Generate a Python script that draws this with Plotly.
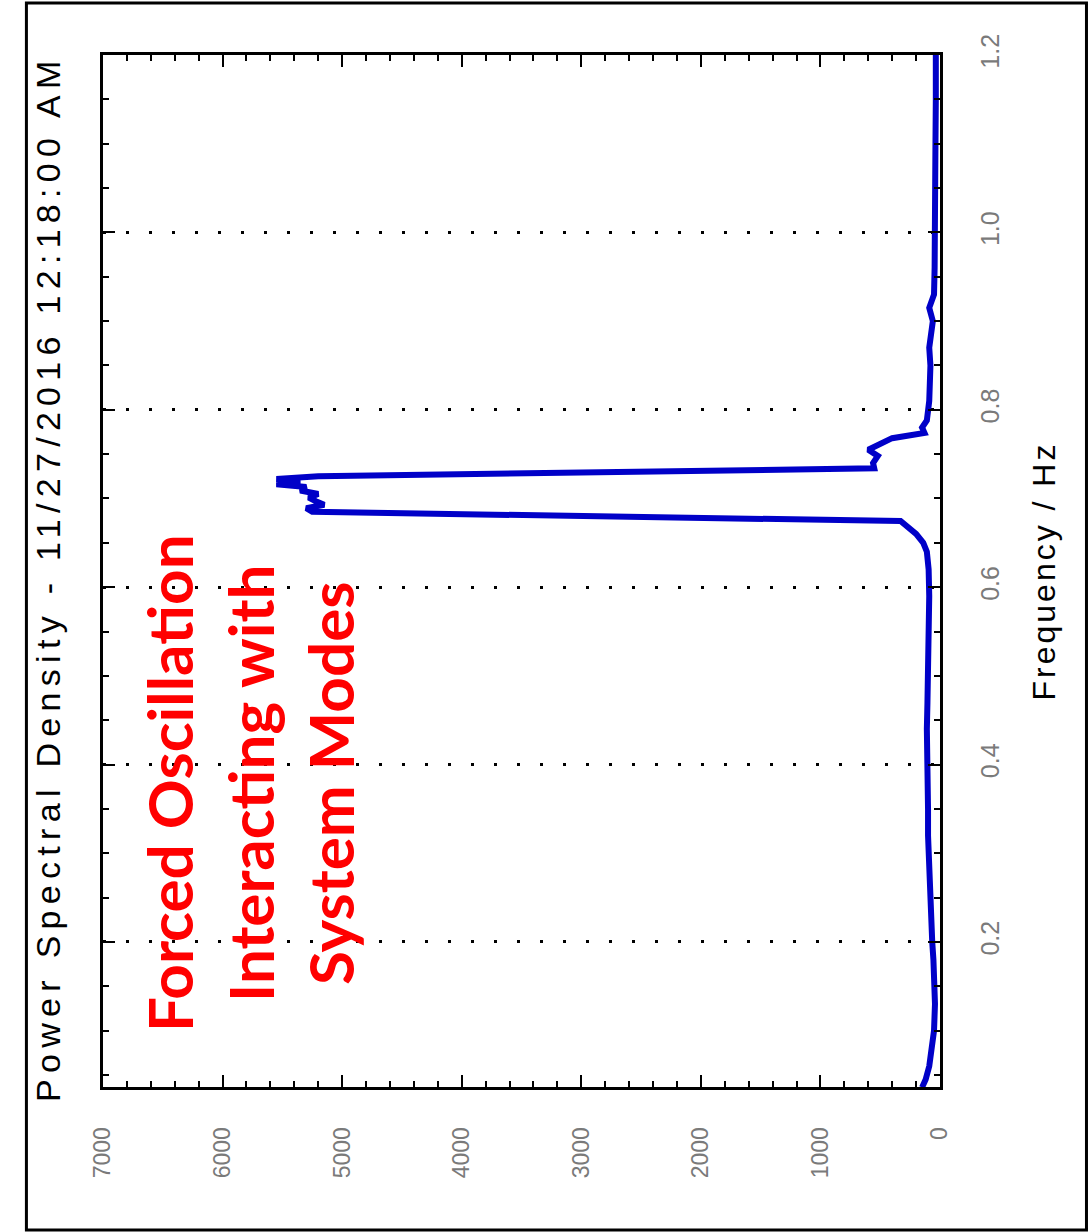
import plotly.graph_objects as go

# ---- data ----
freq_hz = [0.036, 0.045, 0.06, 0.08, 0.10, 0.13, 0.16, 0.18, 0.20, 0.23, 0.26, 0.29,
           0.32, 0.35, 0.38, 0.41, 0.44, 0.47, 0.50, 0.53, 0.56, 0.59, 0.62, 0.64,
           0.65, 0.66, 0.6746, 0.685, 0.689, 0.693, 0.697, 0.701, 0.705, 0.709,
           0.713, 0.716, 0.719, 0.722, 0.725, 0.734, 0.740, 0.748, 0.755, 0.762,
           0.768, 0.774, 0.780, 0.788, 0.796, 0.81, 0.83, 0.85, 0.87, 0.88, 0.90,
           0.915, 0.93, 0.96, 1.0, 1.05, 1.1, 1.15, 1.2]
psd_values = [150, 120, 90, 65, 50, 42, 45, 55, 65, 75, 85, 95,
              100, 100, 105, 100, 110, 105, 100, 95, 90, 90, 95, 110,
              140, 200, 330, 5250, 5300, 5150, 5220, 5280, 5200, 5350,
              5300, 5550, 5350, 5550, 5200, 550, 560, 520, 600, 480,
              400, 130, 150, 110, 100, 90, 85, 80, 90, 80, 60,
              90, 50, 45, 40, 40, 38, 35, 35]

psd_ticks = [0, 1000, 2000, 3000, 4000, 5000, 6000, 7000]
freq_ticks = [0.2, 0.4, 0.6, 0.8, 1.0, 1.2]
freq_tick_labels = ["0.2", "0.4", "0.6", "0.8", "1.0", "1.2"]

title_text = "Power Spectral Density - 11/27/2016 12:18:00 AM"
axis_title = "Frequency / Hz"
note_lines = ["Forced Oscillation", "Interacting with", "System Modes"]

fig = go.Figure()
fig.add_trace(go.Scatter(
    x=psd_values, y=freq_hz, mode="lines",
    line=dict(color="#0000C8", width=6),
    showlegend=False, hoverinfo="skip",
))

tick_font_x = dict(family="Liberation Sans, Arial", size=23, color="#7a7a7a")
tick_font_y = dict(family="Liberation Sans, Arial", size=25, color="#7a7a7a")

fig.update_layout(
    width=1091, height=1232,
    margin=dict(l=103, r=151, t=55, b=145),
    paper_bgcolor="white", plot_bgcolor="white",
    showlegend=False,
    xaxis=dict(
        range=[7000, 0], tickmode="array", tickvals=psd_ticks,
        ticktext=[str(v) for v in psd_ticks],
        side="bottom", tickangle=-90, tickfont=tick_font_x,
        showline=True, linecolor="black", linewidth=3, mirror="allticks",
        ticks="inside", ticklen=12, tickwidth=2, tickcolor="black",
        showgrid=False, zeroline=False, ticklabelstandoff=28,
        minor=dict(dtick=200, tick0=0, ticks="inside", ticklen=6, tickwidth=2,
                   tickcolor="black", showgrid=False),
    ),
    yaxis=dict(
        range=[0.0365, 1.2], tickmode="array", tickvals=freq_ticks,
        ticktext=freq_tick_labels, side="right", tickangle=-90, tickfont=tick_font_y,
        showline=True, linecolor="black", linewidth=3, mirror="allticks",
        ticks="inside", ticklen=12, tickwidth=2, tickcolor="black",
        showgrid=True, gridcolor="black", gridwidth=3, griddash="3px,20px",
        zeroline=False, ticklabelstandoff=26,
        minor=dict(dtick=0.05, tick0=0, ticks="inside", ticklen=6, tickwidth=2,
                   tickcolor="black", showgrid=False),
        title=dict(text='<span style="letter-spacing:3px">' + axis_title + '</span>',
                   font=dict(family="Liberation Sans, Arial", size=32, color="black"),
                   standoff=30),
    ),
)

# title (rotated)
fig.add_annotation(
    text='<span style="letter-spacing:6.3px">' + title_text + '</span>',
    xref="paper", yref="paper", x=-0.066, y=0.493, xanchor="center", yanchor="middle",
    textangle=-90, showarrow=False,
    font=dict(family="Liberation Sans, Arial", size=34, color="black"),
)

# red note (rotated)
fig.add_annotation(
    text="<br>".join(note_lines),
    xref="paper", yref="paper", x=0.175, y=0.295, xanchor="center", yanchor="middle",
    textangle=-90, showarrow=False, align="center",
    font=dict(family="Lato", size=62, color="#FF0000", weight="bold"),
)

# outer frame
fig.add_shape(type="rect", xref="paper", yref="paper",
              x0=-0.0915, x1=1.175, y0=-0.1385, y1=1.0505,
              line=dict(color="black", width=3), fillcolor="rgba(0,0,0,0)")

fig.write_html("out.html")
